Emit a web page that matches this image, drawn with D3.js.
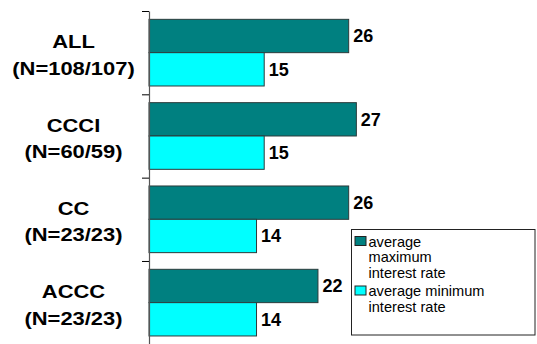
<!DOCTYPE html>
<html>
<head>
<meta charset="utf-8">
<script src="https://cdn.jsdelivr.net/npm/d3@7"></script>
<style>
  html, body { margin: 0; padding: 0; background: #fff; }
  svg { display: block; font-family: Arial, "Liberation Sans", sans-serif; }
</style>
</head>
<body>
<svg id="chart" width="537" height="344"></svg>
<script>
// Interest rate by program group
const categories = ["ALL", "CCCI", "CC", "ACCC"];
const sampleSizes = ["(N=108/107)", "(N=60/59)", "(N=23/23)", "(N=23/23)"];
const seriesKeys = ["max", "min"];
const maxRate = [26, 27, 26, 22];
const minRate = [15, 15, 14, 14];
const legendLines = [
  ["average", "maximum", "interest rate"],
  ["average minimum", "interest rate"]
];
const colors = { max: "#008080", min: "#00FFFF" };

const rows = categories.map((c, i) => ({
  cat: c, n: sampleSizes[i], max: maxRate[i], min: minRate[i]
}));

const svg = d3.select("#chart");
const plot = { left: 149, top: 11, bottom: 344.3 };

const x = d3.scaleLinear().domain([0, 50]).range([plot.left, 533]);
const y = d3.scaleBand().domain(categories).range([plot.top, plot.bottom])
  .paddingInner(0).paddingOuter(0);
const ySub = d3.scaleBand().domain(seriesKeys).range([0, y.bandwidth()])
  .paddingInner(0).paddingOuter(0.25);

// Bars
const groups = svg.append("g").selectAll("g").data(rows).join("g")
  .attr("transform", d => `translate(0,${y(d.cat)})`);

groups.selectAll("rect").data(d => seriesKeys.map(k => ({ key: k, value: d[k] })))
  .join("rect")
  .attr("x", x(0))
  .attr("y", d => ySub(d.key))
  .attr("width", d => x(d.value) - x(0))
  .attr("height", ySub.bandwidth())
  .attr("fill", d => colors[d.key])
  .attr("stroke", "#2b3b3b")
  .attr("stroke-width", 1);

// Value labels
groups.selectAll("text.val").data(d => seriesKeys.map(k => ({ key: k, value: d[k] })))
  .join("text")
  .attr("class", "val")
  .attr("x", d => x(d.value) + 4.5)
  .attr("y", d => ySub(d.key) + ySub.bandwidth() / 2)
  .attr("dy", "0.36em")
  .attr("font-size", "18px")
  .attr("font-weight", "bold")
  .attr("fill", "#000")
  .text(d => d.value);

// Category axis with separators between groups
const sep = d3.scaleLinear().domain([0, categories.length]).range([plot.top, plot.bottom]);
const axis = svg.append("g")
  .attr("transform", `translate(${plot.left},0)`)
  .call(d3.axisLeft(sep).tickValues(d3.range(categories.length + 1))
    .tickFormat("").tickSize(7).tickSizeOuter(0));
axis.select(".domain").attr("stroke", "#555").attr("stroke-width", 1.2);
axis.selectAll(".tick line").attr("stroke", "#000");

// Category labels (two lines each)
const labels = svg.append("g").selectAll("g").data(rows).join("g")
  .attr("transform", d => `translate(73.5,${y(d.cat) + y.bandwidth() / 2}) scale(1.18,1)`);
const lt = labels.append("text")
  .attr("text-anchor", "middle")
  .attr("font-size", "18.6px")
  .attr("font-weight", "bold")
  .attr("fill", "#000");
lt.append("tspan").attr("x", 0).attr("y", -4.5).text(d => d.cat);
lt.append("tspan").attr("x", 0).attr("y", 22.2).text(d => d.n);

// Legend
const legend = svg.append("g").attr("transform", "translate(351.5,229.5)");
legend.append("rect")
  .attr("width", 183.5).attr("height", 105.5)
  .attr("fill", "#fff").attr("stroke", "#222").attr("stroke-width", 1);

const entryTop = [17, 66.5];
seriesKeys.forEach((k, i) => {
  const eg = legend.append("g").attr("transform", `translate(0,${entryTop[i]})`);
  eg.append("rect")
    .attr("x", 3.5).attr("y", -10).attr("width", 11).attr("height", 9)
    .attr("fill", colors[k]).attr("stroke", "#222").attr("stroke-width", 1);
  const t = eg.append("text").attr("font-size", "14.6px").attr("fill", "#000");
  legendLines[i].forEach((line, j) => {
    t.append("tspan").attr("x", 17).attr("y", j * 15.6).text(line);
  });
});
</script>
</body>
</html>
